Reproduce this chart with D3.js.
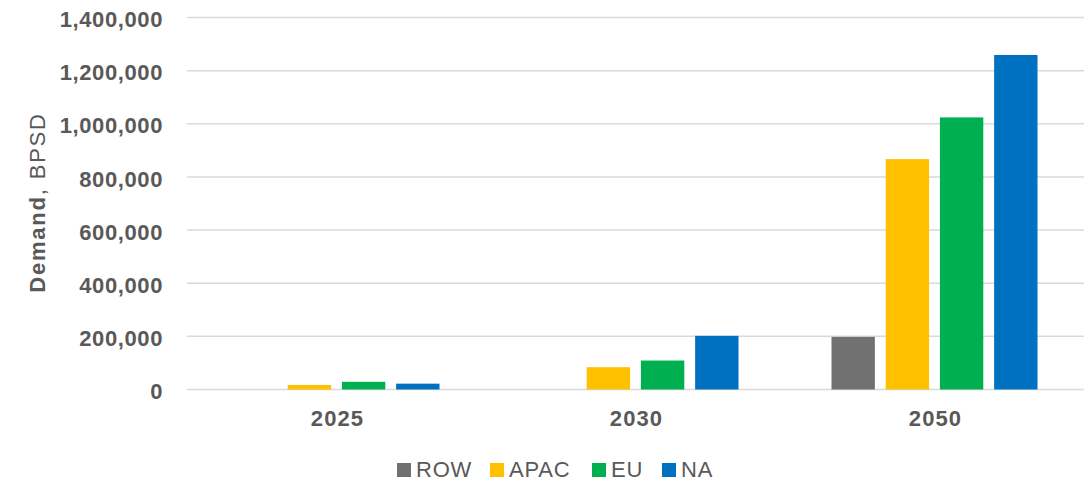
<!DOCTYPE html>
<html>
<head>
<meta charset="utf-8">
<script src="https://cdn.jsdelivr.net/npm/d3@7"></script>
<style>
  body { margin: 0; background: #fff; }
  svg text { font-family: "Liberation Sans", Arial, sans-serif; fill: #595959; }
</style>
</head>
<body>
<svg id="chart" width="1089" height="483"></svg>
<script>
// data
const years = ['2025', '2030', '2050'];
const regions = ['ROW', 'APAC', 'EU', 'NA'];
const ROW  = [0, 0, 198000];
const APAC = [17000, 84000, 867000];
const EU   = [29000, 109000, 1024000];
const NA   = [22000, 202000, 1259000];
const yTicks = [0, 200000, 400000, 600000, 800000, 1000000, 1200000, 1400000];

const series = { ROW, APAC, EU, NA };
const colors = { ROW: '#717171', APAC: '#FFC000', EU: '#00B050', NA: '#0070C0' };

const svg = d3.select('#chart');
const plotLeft = 187, plotRight = 1084, plotTop = 17.5, plotBottom = 389.5;

const x0 = d3.scaleBand()
  .domain(years)
  .range([plotLeft, plotRight])
  .paddingInner(0.311)
  .paddingOuter(0.1555);

const x1 = d3.scaleBand()
  .domain(regions)
  .range([0, x0.bandwidth()])
  .paddingInner(0.2);

const y = d3.scaleLinear()
  .domain([0, 1400000])
  .range([plotBottom, plotTop]);

// gridlines
svg.append('g')
  .selectAll('line')
  .data(yTicks)
  .enter().append('line')
  .attr('x1', plotLeft)
  .attr('x2', plotRight)
  .attr('y1', d => y(d))
  .attr('y2', d => y(d))
  .attr('stroke', '#d9d9d9')
  .attr('stroke-width', 1.5);

// y tick labels
const fmt = d3.format(',');
svg.append('g')
  .selectAll('text')
  .data(yTicks)
  .enter().append('text')
  .attr('x', 163)
  .attr('y', d => y(d) + 2)
  .attr('dy', '0.35em')
  .attr('text-anchor', 'end')
  .style('font-size', '22px')
  .style('letter-spacing', '0.6px')
  .style('font-weight', 'bold')
  .text(d => fmt(d));

// bars
const groups = svg.append('g')
  .selectAll('g')
  .data(years)
  .enter().append('g')
  .attr('transform', d => 'translate(' + x0(d) + ',0)');

groups.selectAll('rect')
  .data((yr, i) => regions.map(r => ({ region: r, value: series[r][i] })))
  .enter().append('rect')
  .attr('x', d => x1(d.region))
  .attr('width', x1.bandwidth())
  .attr('y', d => y(d.value))
  .attr('height', d => y(0) - y(d.value))
  .attr('fill', d => colors[d.region]);

// x labels
svg.append('g')
  .selectAll('text')
  .data(years)
  .enter().append('text')
  .attr('x', d => x0(d) + x0.bandwidth() / 2 + 1)
  .attr('y', 425.5)
  .attr('text-anchor', 'middle')
  .style('font-size', '22px')
  .style('letter-spacing', '1.1px')
  .style('font-weight', 'bold')
  .text(d => d);

// y axis title
const yt = svg.append('text')
  .attr('transform', 'translate(45,' + ((plotTop + plotBottom) / 2 - 1) + ') rotate(-90)')
  .attr('text-anchor', 'middle')
  .style('font-size', '22px')
  .style('letter-spacing', '1.8px');
yt.append('tspan').style('font-weight', 'bold').text('Demand');
yt.append('tspan').text(', BPSD');

// legend
const legendX = [397, 490, 592, 662];
const legend = svg.append('g')
  .selectAll('g')
  .data(regions)
  .enter().append('g')
  .attr('transform', (d, i) => 'translate(' + legendX[i] + ',463)');

legend.append('rect')
  .attr('width', 14)
  .attr('height', 14)
  .attr('fill', d => colors[d]);

legend.append('text')
  .attr('x', 19)
  .attr('y', 14)
  .style('font-size', '22px')
  .style('letter-spacing', '0.8px')
  .text(d => d);
</script>
</body>
</html>
